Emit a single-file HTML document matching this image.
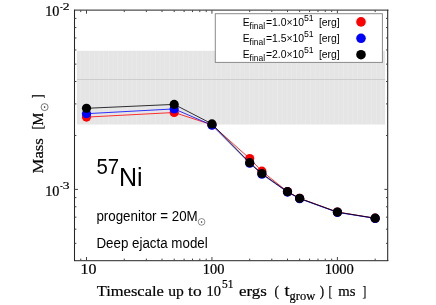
<!DOCTYPE html><html><head><meta charset="utf-8"><style>html,body{margin:0;padding:0;background:#fff}svg{display:block;will-change:transform}text{font-family:"Liberation Sans",sans-serif;fill:#000}.s{font-family:"Liberation Serif",serif;stroke:#000;stroke-width:0.2px}</style></head><body>
<svg width="436" height="305" viewBox="0 0 436 305">
<rect width="436" height="305" fill="#fff"/>
<rect x="77" y="50.8" width="308.1" height="73.7" fill="#e5e5e5"/>
<path d="M80.2 50.8V124.5M84.9 50.8V124.5M89.6 50.8V124.5M94.3 50.8V124.5M99.0 50.8V124.5M103.7 50.8V124.5M108.4 50.8V124.5M113.1 50.8V124.5M117.8 50.8V124.5M122.5 50.8V124.5M127.2 50.8V124.5M131.9 50.8V124.5M136.6 50.8V124.5M141.3 50.8V124.5M146.0 50.8V124.5M150.7 50.8V124.5M155.4 50.8V124.5M160.1 50.8V124.5M164.8 50.8V124.5M169.5 50.8V124.5M174.2 50.8V124.5M178.9 50.8V124.5M183.6 50.8V124.5M188.3 50.8V124.5M193.0 50.8V124.5M197.7 50.8V124.5M202.4 50.8V124.5M207.1 50.8V124.5M211.8 50.8V124.5M216.5 50.8V124.5M221.2 50.8V124.5M225.9 50.8V124.5M230.6 50.8V124.5M235.3 50.8V124.5M240.0 50.8V124.5M244.7 50.8V124.5M249.4 50.8V124.5M254.1 50.8V124.5M258.8 50.8V124.5M263.5 50.8V124.5M268.2 50.8V124.5M272.9 50.8V124.5M277.6 50.8V124.5M282.3 50.8V124.5M287.0 50.8V124.5M291.7 50.8V124.5M296.4 50.8V124.5M301.1 50.8V124.5M305.8 50.8V124.5M310.5 50.8V124.5M315.2 50.8V124.5M319.9 50.8V124.5M324.6 50.8V124.5M329.3 50.8V124.5M334.0 50.8V124.5M338.7 50.8V124.5M343.4 50.8V124.5M348.1 50.8V124.5M352.8 50.8V124.5M357.5 50.8V124.5M362.2 50.8V124.5M366.9 50.8V124.5M371.6 50.8V124.5M376.3 50.8V124.5M381.0 50.8V124.5" stroke="#fff" stroke-opacity="0.17" stroke-width="1" fill="none"/>
<line x1="77" x2="385.1" y1="79.5" y2="79.5" stroke="#cdcdcd" stroke-width="1"/>
<path d="M74.0 10.2H388.4M74.0 260.6H388.4" stroke="#505050" stroke-width="1.3" fill="none"/>
<path d="M74.5 9.7V261.1M387.7 9.7V261.1" stroke="#262626" stroke-width="1.05" fill="none"/>
<path d="M80.76 260.5v-1.9M80.76 10.2v1.9M86.50 260.5v-3.5M86.50 10.2v3.5M124.26 260.5v-1.9M124.26 10.2v1.9M146.35 260.5v-1.9M146.35 10.2v1.9M162.03 260.5v-1.9M162.03 10.2v1.9M174.19 260.5v-1.9M174.19 10.2v1.9M184.12 260.5v-1.9M184.12 10.2v1.9M192.52 260.5v-1.9M192.52 10.2v1.9M199.79 260.5v-1.9M199.79 10.2v1.9M206.21 260.5v-1.9M206.21 10.2v1.9M211.95 260.5v-3.5M211.95 10.2v3.5M249.71 260.5v-1.9M249.71 10.2v1.9M271.80 260.5v-1.9M271.80 10.2v1.9M287.48 260.5v-1.9M287.48 10.2v1.9M299.64 260.5v-1.9M299.64 10.2v1.9M309.57 260.5v-1.9M309.57 10.2v1.9M317.97 260.5v-1.9M317.97 10.2v1.9M325.24 260.5v-1.9M325.24 10.2v1.9M331.66 260.5v-1.9M331.66 10.2v1.9M337.40 260.5v-3.5M337.40 10.2v3.5M375.16 260.5v-1.9M375.16 10.2v1.9M74.5 243.34h1.9M387.9 243.34h-1.9M74.5 229.16h1.9M387.9 229.16h-1.9M74.5 217.16h1.9M387.9 217.16h-1.9M74.5 206.77h1.9M387.9 206.77h-1.9M74.5 197.60h1.9M387.9 197.60h-1.9M74.5 189.40h3.5M387.9 189.40h-3.5M74.5 135.46h1.9M387.9 135.46h-1.9M74.5 103.90h1.9M387.9 103.90h-1.9M74.5 81.51h1.9M387.9 81.51h-1.9M74.5 64.14h1.9M387.9 64.14h-1.9M74.5 49.96h1.9M387.9 49.96h-1.9M74.5 37.96h1.9M387.9 37.96h-1.9M74.5 27.57h1.9M387.9 27.57h-1.9M74.5 18.40h1.9M387.9 18.40h-1.9" stroke="#444" stroke-width="1" fill="none"/>
<polyline points="86.50,117.1 174.19,112.5 211.95,124.8 249.71,158.6 261.87,171.2 287.48,191.6 299.64,198.3 337.40,212.1 375.16,218.2" fill="none" stroke="#ff0000" stroke-width="0.8"/>
<circle cx="86.50" cy="117.1" r="4.6" fill="#ff0000"/>
<circle cx="174.19" cy="112.5" r="4.6" fill="#ff0000"/>
<circle cx="211.95" cy="124.8" r="4.6" fill="#ff0000"/>
<circle cx="249.71" cy="158.6" r="4.6" fill="#ff0000"/>
<circle cx="261.87" cy="171.2" r="4.6" fill="#ff0000"/>
<circle cx="287.48" cy="191.6" r="4.6" fill="#ff0000"/>
<circle cx="299.64" cy="198.3" r="4.6" fill="#ff0000"/>
<circle cx="337.40" cy="212.1" r="4.6" fill="#ff0000"/>
<circle cx="375.16" cy="218.2" r="4.6" fill="#ff0000"/>
<polyline points="86.50,113.7 174.19,108.9 211.95,125.2 249.71,163.2 261.87,174.2 287.48,192.1 299.64,198.7 337.40,212.4 375.16,218.4" fill="none" stroke="#0000ff" stroke-width="0.8"/>
<circle cx="86.50" cy="113.7" r="4.6" fill="#0000ff"/>
<circle cx="174.19" cy="108.9" r="4.6" fill="#0000ff"/>
<circle cx="211.95" cy="125.2" r="4.6" fill="#0000ff"/>
<circle cx="249.71" cy="163.2" r="4.6" fill="#0000ff"/>
<circle cx="261.87" cy="174.2" r="4.6" fill="#0000ff"/>
<circle cx="287.48" cy="192.1" r="4.6" fill="#0000ff"/>
<circle cx="299.64" cy="198.7" r="4.6" fill="#0000ff"/>
<circle cx="337.40" cy="212.4" r="4.6" fill="#0000ff"/>
<circle cx="375.16" cy="218.4" r="4.6" fill="#0000ff"/>
<polyline points="86.50,108.3 174.19,104.4 211.95,123.9 249.71,162.7 261.87,173.5 287.48,191.7 299.64,198.3 337.40,212.1 375.16,218.2" fill="none" stroke="#000000" stroke-width="0.8"/>
<circle cx="86.50" cy="108.3" r="4.6" fill="#000000"/>
<circle cx="174.19" cy="104.4" r="4.6" fill="#000000"/>
<circle cx="211.95" cy="123.9" r="4.6" fill="#000000"/>
<circle cx="249.71" cy="162.7" r="4.6" fill="#000000"/>
<circle cx="261.87" cy="173.5" r="4.6" fill="#000000"/>
<circle cx="287.48" cy="191.7" r="4.6" fill="#000000"/>
<circle cx="299.64" cy="198.3" r="4.6" fill="#000000"/>
<circle cx="337.40" cy="212.1" r="4.6" fill="#000000"/>
<circle cx="375.16" cy="218.2" r="4.6" fill="#000000"/>
<rect x="215.3" y="13.7" width="167.1" height="48.7" fill="#fff" stroke="#8a8a8a" stroke-width="1"/>
<text x="242.7" y="25.60" font-size="10.4">E</text>
<text x="249.6" y="28.60" font-size="8.4" textLength="15.6" lengthAdjust="spacingAndGlyphs">final</text>
<text x="266.0" y="25.60" font-size="10.4">=1.0×10</text>
<text x="304.0" y="20.50" font-size="9.4" textLength="9.7" lengthAdjust="spacingAndGlyphs">51</text>
<text x="318.9" y="25.60" font-size="10.4">[erg]</text>
<circle cx="361" cy="21.90" r="4.8" fill="#ff0000"/>
<text x="242.7" y="41.80" font-size="10.4">E</text>
<text x="249.6" y="44.80" font-size="8.4" textLength="15.6" lengthAdjust="spacingAndGlyphs">final</text>
<text x="266.0" y="41.80" font-size="10.4">=1.5×10</text>
<text x="304.0" y="36.70" font-size="9.4" textLength="9.7" lengthAdjust="spacingAndGlyphs">51</text>
<text x="318.9" y="41.80" font-size="10.4">[erg]</text>
<circle cx="361" cy="38.30" r="4.8" fill="#0000ff"/>
<text x="242.7" y="58.00" font-size="10.4">E</text>
<text x="249.6" y="61.00" font-size="8.4" textLength="15.6" lengthAdjust="spacingAndGlyphs">final</text>
<text x="266.0" y="58.00" font-size="10.4">=2.0×10</text>
<text x="304.0" y="52.90" font-size="9.4" textLength="9.7" lengthAdjust="spacingAndGlyphs">51</text>
<text x="318.9" y="58.00" font-size="10.4">[erg]</text>
<circle cx="361" cy="54.70" r="4.8" fill="#000000"/>
<text transform="translate(96.5,173.6) scale(1,1.07)" font-size="20.4">57</text>
<text x="119.0" y="185.8" font-size="25.0">Ni</text>
<text transform="translate(96.4,220.8) scale(1,1.055)" font-size="13.35">progenitor = 20M</text>
<circle cx="201.55" cy="221.9" r="3.35" fill="none" stroke="#333" stroke-width="0.55"/><circle cx="201.55" cy="221.9" r="0.75" fill="#222"/>
<text transform="translate(96.4,248) scale(1,1.055)" font-size="13.35">Deep ejacta model</text>
<text class="s" x="80.5" y="273.8" font-size="13.6" textLength="15.9" lengthAdjust="spacingAndGlyphs">10</text>
<text class="s" x="202.8" y="273.8" font-size="13.6" textLength="21.6" lengthAdjust="spacingAndGlyphs">100</text>
<text class="s" x="324.7" y="273.8" font-size="13.6" textLength="29.2" lengthAdjust="spacingAndGlyphs">1000</text>
<text class="s" x="45.2" y="15.8" font-size="13.6" textLength="14.2" lengthAdjust="spacingAndGlyphs">10</text>
<text class="s" x="60.2" y="9.7" font-size="10.8" textLength="2.4" lengthAdjust="spacingAndGlyphs">-</text>
<text class="s" x="62.7" y="9.7" font-size="11.4" textLength="6.8" lengthAdjust="spacingAndGlyphs">2</text>
<text class="s" x="45.2" y="196.0" font-size="13.6" textLength="14.2" lengthAdjust="spacingAndGlyphs">10</text>
<text class="s" x="60.2" y="189.4" font-size="10.8" textLength="2.4" lengthAdjust="spacingAndGlyphs">-</text>
<text class="s" x="62.7" y="189.4" font-size="11.4" textLength="6.8" lengthAdjust="spacingAndGlyphs">3</text>
<text class="s" x="96.7" y="296.0" font-size="15.5" textLength="67.2" lengthAdjust="spacingAndGlyphs">Timescale</text>
<text class="s" x="168.2" y="296.0" font-size="15.5" textLength="15.6" lengthAdjust="spacingAndGlyphs">up</text>
<text class="s" x="188.1" y="296.0" font-size="15.5" textLength="13.6" lengthAdjust="spacingAndGlyphs">to</text>
<text class="s" x="206.5" y="296.3" font-size="13.8" textLength="14.4" lengthAdjust="spacingAndGlyphs">10</text>
<text class="s" x="222.0" y="287.8" font-size="11.8" textLength="11.4" lengthAdjust="spacingAndGlyphs">51</text>
<text class="s" x="239.0" y="296.0" font-size="15.5" textLength="27.8" lengthAdjust="spacingAndGlyphs">ergs</text>
<text class="s" x="274.6" y="296.0" font-size="14" textLength="4.4" lengthAdjust="spacingAndGlyphs">(</text>
<text class="s" x="284.4" y="296.0" font-size="17" textLength="5.2" lengthAdjust="spacingAndGlyphs">t</text>
<text class="s" x="289.6" y="299.6" font-size="12.4" textLength="25.6" lengthAdjust="spacingAndGlyphs">grow</text>
<text class="s" x="319.7" y="296.0" font-size="14" textLength="4.4" lengthAdjust="spacingAndGlyphs">)</text>
<text class="s" x="328.4" y="296.0" font-size="14" textLength="3.8" lengthAdjust="spacingAndGlyphs">[</text>
<text class="s" x="338.2" y="296.0" font-size="15.5" textLength="17.2" lengthAdjust="spacingAndGlyphs">ms</text>
<text class="s" x="362.4" y="296.0" font-size="14" textLength="3.8" lengthAdjust="spacingAndGlyphs">]</text>
<g transform="translate(42.9,173.4) rotate(-90)">
<text class="s" x="0" y="0" font-size="15.5" textLength="35.2" lengthAdjust="spacingAndGlyphs">Mass</text>
<text class="s" x="44.2" y="-0.5" font-size="13.6" textLength="3.8" lengthAdjust="spacingAndGlyphs">[</text>
<text class="s" x="48.0" y="0" font-size="15.5" textLength="12.8" lengthAdjust="spacingAndGlyphs">M</text>
<text class="s" x="75.2" y="-0.5" font-size="13.6" textLength="3.8" lengthAdjust="spacingAndGlyphs">]</text>
<circle cx="66.3" cy="1.7" r="3.5" fill="none" stroke="#222" stroke-width="0.6"/><circle cx="66.3" cy="1.7" r="0.8" fill="#222"/>
</g>
</svg></body></html>
